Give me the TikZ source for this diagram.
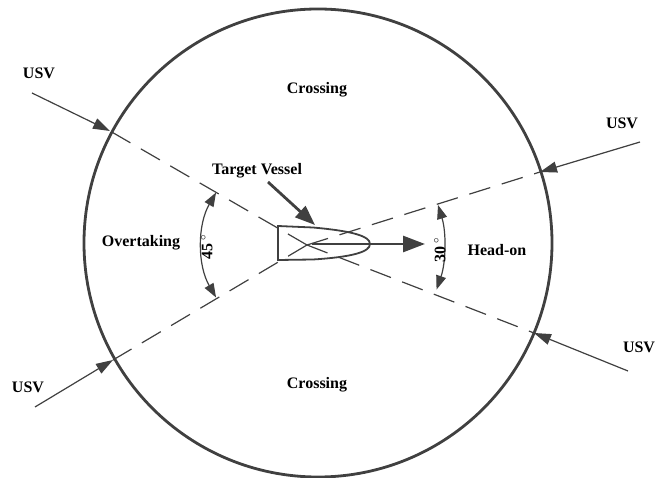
\documentclass[tikz,border=0pt]{standalone}
\usepackage{fontspec}
\setmainfont{Liberation Serif}
\usetikzlibrary{arrows.meta}
\definecolor{sengray}{RGB}{64,64,64}

\begin{document}
\begin{tikzpicture}[x=1pt, y=1pt, font=\fontsize{16}{19}\selectfont\bfseries,
  usv/.style={draw=sengray, line width=1.2pt, -{Triangle[length=17pt,width=11pt]}},
  sector/.style={draw=sengray, line width=1.2pt, dash pattern=on 22pt off 12pt},
  angarc/.style={draw=sengray, line width=1.2pt, {Triangle[length=14pt,width=10pt]}-{Triangle[length=14pt,width=10pt]}}]
\useasboundingbox (0,0) rectangle (667,477);
% range circle
\coordinate (C) at (318,234);
\draw[sengray, line width=2.8pt] (C) circle[radius=234];
% vessel centre and sector borders
\coordinate (O) at (307,232);
\coordinate (P1) at (110,346);
\coordinate (P2) at (113,117);
\coordinate (P3) at (540,305);
\coordinate (P4) at (534,144);
\path[sector] (O) -- (P1);
\path[sector] (O) -- (P2);
\path[sector] (O) -- (P3);
\path[sector] (O) -- (P4);
% approaching USVs
\node (u1) at (39,404) {USV};
\node (u2) at (28,90) {USV};
\node (u3) at (622,354) {USV};
\node (u4) at (639,130) {USV};
\coordinate (U1) at (32,384);
\coordinate (U2) at (35,70);
\coordinate (U3) at (640,335);
\coordinate (U4) at (628,106);
\path[usv] (U1) -- (P1);
\path[usv] (U2) -- (P2);
\path[usv] (U3) -- (P3);
\path[usv] (U4) -- (P4);
% target vessel
\draw[sengray, line width=1.8pt] (278,251) -- (313,249.5)
  .. controls (352,246) and (370,241) .. (370,233)
  .. controls (370,225) and (352,220) .. (313,217.5) -- (278,217) -- cycle;
\coordinate (bow) at (312,233);
\coordinate (head) at (425,233);
\path[draw=sengray, line width=2.8pt, -{Triangle[length=22pt,width=16pt]}] (bow) -- (head);
\node (tv) at (257,306) {Target Vessel};
\coordinate (tvtail) at (268,295);
\coordinate (tvtip) at (315,252);
\path[draw=sengray, line width=2.8pt, -{Triangle[length=20pt,width=15pt]}] (tvtail) -- (tvtip);
% angles
\coordinate (a1) at ([shift={(150:105)}]O);
\coordinate (b1) at ([shift={(-19:137)}]O);
\path[angarc] (a1) arc[start angle=150, end angle=210, radius=105];
\path[angarc] (b1) arc[start angle=-19, end angle=17, radius=137];
\node[rotate=90] (ang45) at (207,230) {45\,$^{\circ}$};
\node[rotate=90] (ang30) at (440,227) {30\,$^{\circ}$};
% encounter regions
\node (cr1) at (317,387) {Crossing};
\node (cr2) at (317,92) {Crossing};
\node (ovt) at (141,234) {Overtaking};
\node (hon) at (497,227) {Head-on};
\end{tikzpicture}
\end{document}
